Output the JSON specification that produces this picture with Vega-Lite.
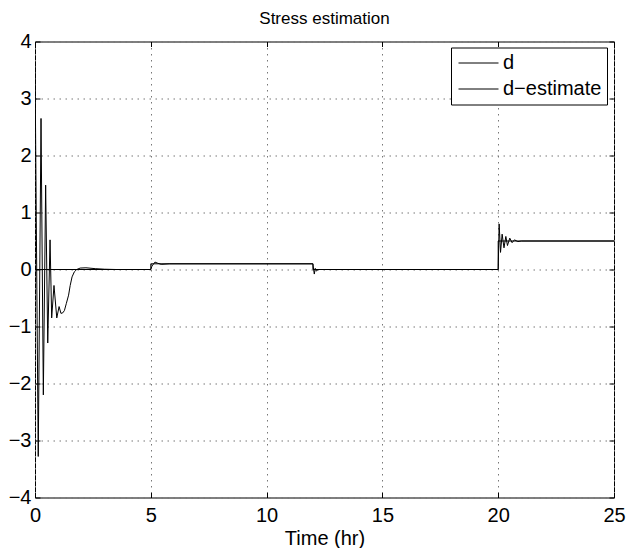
{
  "$schema": "https://vega.github.io/schema/vega-lite/v6.json",
  "width": 579,
  "height": 456,
  "autosize": {"type": "none"},
  "padding": {"left": 35, "top": 41.5, "right": 12, "bottom": 50.5},
  "background": "white",
  "title": {"text": "Stress estimation", "font": "Liberation Sans", "fontSize": 17, "fontWeight": "normal", "color": "black", "offset": 4},
  "config": {
    "view": {"stroke": "black", "strokeWidth": 1},
    "axis": {
      "domain": false,
      "grid": true,
      "gridColor": "#777777",
      "gridDash": [1.5, 4.5],
      "gridWidth": 1,
      "labelFont": "Liberation Sans",
      "labelFontSize": 20,
      "labelColor": "black",
      "labelFlush": false,
      "tickColor": "black",
      "tickSize": -5,
      "tickWidth": 1,
      "titleFont": "Liberation Sans",
      "titleFontSize": 20,
      "titleFontWeight": "normal",
      "titleColor": "black"
    }
  },
  "data": {
    "values": [
      {"series": "d", "i": 0, "t": 0, "v": 0},
      {"series": "d", "i": 1, "t": 5, "v": 0},
      {"series": "d", "i": 2, "t": 5, "v": 0.1},
      {"series": "d", "i": 3, "t": 12, "v": 0.1},
      {"series": "d", "i": 4, "t": 12, "v": 0},
      {"series": "d", "i": 5, "t": 20, "v": 0},
      {"series": "d", "i": 6, "t": 20, "v": 0.5},
      {"series": "d", "i": 7, "t": 25, "v": 0.5},
      {"series": "d−estimate", "i": 0, "t": 0, "v": 3.65},
      {"series": "d−estimate", "i": 1, "t": 0.14, "v": -3.28},
      {"series": "d−estimate", "i": 2, "t": 0.26, "v": 2.65},
      {"series": "d−estimate", "i": 3, "t": 0.36, "v": -2.2},
      {"series": "d−estimate", "i": 4, "t": 0.46, "v": 1.48},
      {"series": "d−estimate", "i": 5, "t": 0.55, "v": -1.29},
      {"series": "d−estimate", "i": 6, "t": 0.65, "v": 0.52},
      {"series": "d−estimate", "i": 7, "t": 0.72, "v": -0.85},
      {"series": "d−estimate", "i": 8, "t": 0.82, "v": -0.28},
      {"series": "d−estimate", "i": 9, "t": 0.94, "v": -0.85},
      {"series": "d−estimate", "i": 10, "t": 1.04, "v": -0.65},
      {"series": "d−estimate", "i": 11, "t": 1.12, "v": -0.77},
      {"series": "d−estimate", "i": 12, "t": 1.2, "v": -0.76},
      {"series": "d−estimate", "i": 13, "t": 1.27, "v": -0.72},
      {"series": "d−estimate", "i": 14, "t": 1.35, "v": -0.6},
      {"series": "d−estimate", "i": 15, "t": 1.45, "v": -0.45},
      {"series": "d−estimate", "i": 16, "t": 1.52, "v": -0.28},
      {"series": "d−estimate", "i": 17, "t": 1.6, "v": -0.13},
      {"series": "d−estimate", "i": 18, "t": 1.7, "v": -0.04},
      {"series": "d−estimate", "i": 19, "t": 1.8, "v": 0.0},
      {"series": "d−estimate", "i": 20, "t": 1.95, "v": 0.025},
      {"series": "d−estimate", "i": 21, "t": 2.2, "v": 0.03},
      {"series": "d−estimate", "i": 22, "t": 2.6, "v": 0.015},
      {"series": "d−estimate", "i": 23, "t": 3.0, "v": 0.005},
      {"series": "d−estimate", "i": 24, "t": 3.5, "v": 0},
      {"series": "d−estimate", "i": 25, "t": 5.0, "v": 0},
      {"series": "d−estimate", "i": 26, "t": 5.05, "v": 0.06},
      {"series": "d−estimate", "i": 27, "t": 5.18, "v": 0.13},
      {"series": "d−estimate", "i": 28, "t": 5.3, "v": 0.11},
      {"series": "d−estimate", "i": 29, "t": 5.45, "v": 0.09},
      {"series": "d−estimate", "i": 30, "t": 5.8, "v": 0.1},
      {"series": "d−estimate", "i": 31, "t": 12.0, "v": 0.1},
      {"series": "d−estimate", "i": 32, "t": 12.03, "v": 0.0},
      {"series": "d−estimate", "i": 33, "t": 12.06, "v": -0.08},
      {"series": "d−estimate", "i": 34, "t": 12.1, "v": 0.02},
      {"series": "d−estimate", "i": 35, "t": 12.15, "v": -0.03},
      {"series": "d−estimate", "i": 36, "t": 12.22, "v": 0.0},
      {"series": "d−estimate", "i": 37, "t": 12.3, "v": 0},
      {"series": "d−estimate", "i": 38, "t": 20.0, "v": 0},
      {"series": "d−estimate", "i": 39, "t": 20.04, "v": 0.8},
      {"series": "d−estimate", "i": 40, "t": 20.1, "v": 0.3},
      {"series": "d−estimate", "i": 41, "t": 20.17, "v": 0.62},
      {"series": "d−estimate", "i": 42, "t": 20.25, "v": 0.38},
      {"series": "d−estimate", "i": 43, "t": 20.33, "v": 0.58},
      {"series": "d−estimate", "i": 44, "t": 20.4, "v": 0.42},
      {"series": "d−estimate", "i": 45, "t": 20.5, "v": 0.55},
      {"series": "d−estimate", "i": 46, "t": 20.6, "v": 0.47},
      {"series": "d−estimate", "i": 47, "t": 20.7, "v": 0.52},
      {"series": "d−estimate", "i": 48, "t": 20.85, "v": 0.49},
      {"series": "d−estimate", "i": 49, "t": 21.0, "v": 0.5},
      {"series": "d−estimate", "i": 50, "t": 25, "v": 0.5}
    ]
  },
  "layer": [
    {
      "mark": {"type": "line", "strokeWidth": 1, "clip": true},
      "encoding": {
        "x": {"field": "t", "type": "quantitative", "scale": {"domain": [0, 25], "nice": false},
              "axis": {"values": [0, 5, 10, 15, 20, 25], "title": "Time (hr)", "labelPadding": 12.8, "titlePadding": 3}},
        "y": {"field": "v", "type": "quantitative", "scale": {"domain": [-4, 4], "nice": false},
              "axis": {"values": [-4, -3, -2, -1, 0, 1, 2, 3, 4], "title": null, "labelPadding": 9}},
        "color": {"field": "series", "type": "nominal",
                  "scale": {"domain": ["d", "d−estimate"], "range": ["black", "black"]},
                  "legend": {"orient": "none", "legendX": 416, "legendY": 6, "title": null,
                             "symbolType": "M-0.8,0H3.2", "symbolSize": 400, "symbolStrokeWidth": 1,
                             "symbolStrokeColor": "black", "symbolFillColor": "transparent",
                             "labelFont": "Liberation Sans", "labelFontSize": 20, "labelColor": "black",
                             "labelOffset": 26, "rowPadding": 5, "padding": 5,
                             "strokeColor": "black", "fillColor": "white"}},
        "order": {"field": "i", "type": "quantitative"}
      }
    },
    {
      "mark": {"type": "line", "opacity": 0},
      "encoding": {
        "x": {"field": "t", "type": "quantitative",
              "axis": {"orient": "top", "values": [0, 5, 10, 15, 20, 25], "labels": false, "grid": false, "title": null}},
        "y": {"field": "v", "type": "quantitative",
              "axis": {"orient": "right", "values": [-4, -3, -2, -1, 0, 1, 2, 3, 4], "labels": false, "grid": false, "title": null}},
        "detail": {"field": "series"},
        "order": {"field": "i", "type": "quantitative"}
      }
    }
  ],
  "resolve": {"axis": {"x": "independent", "y": "independent"}}
}
